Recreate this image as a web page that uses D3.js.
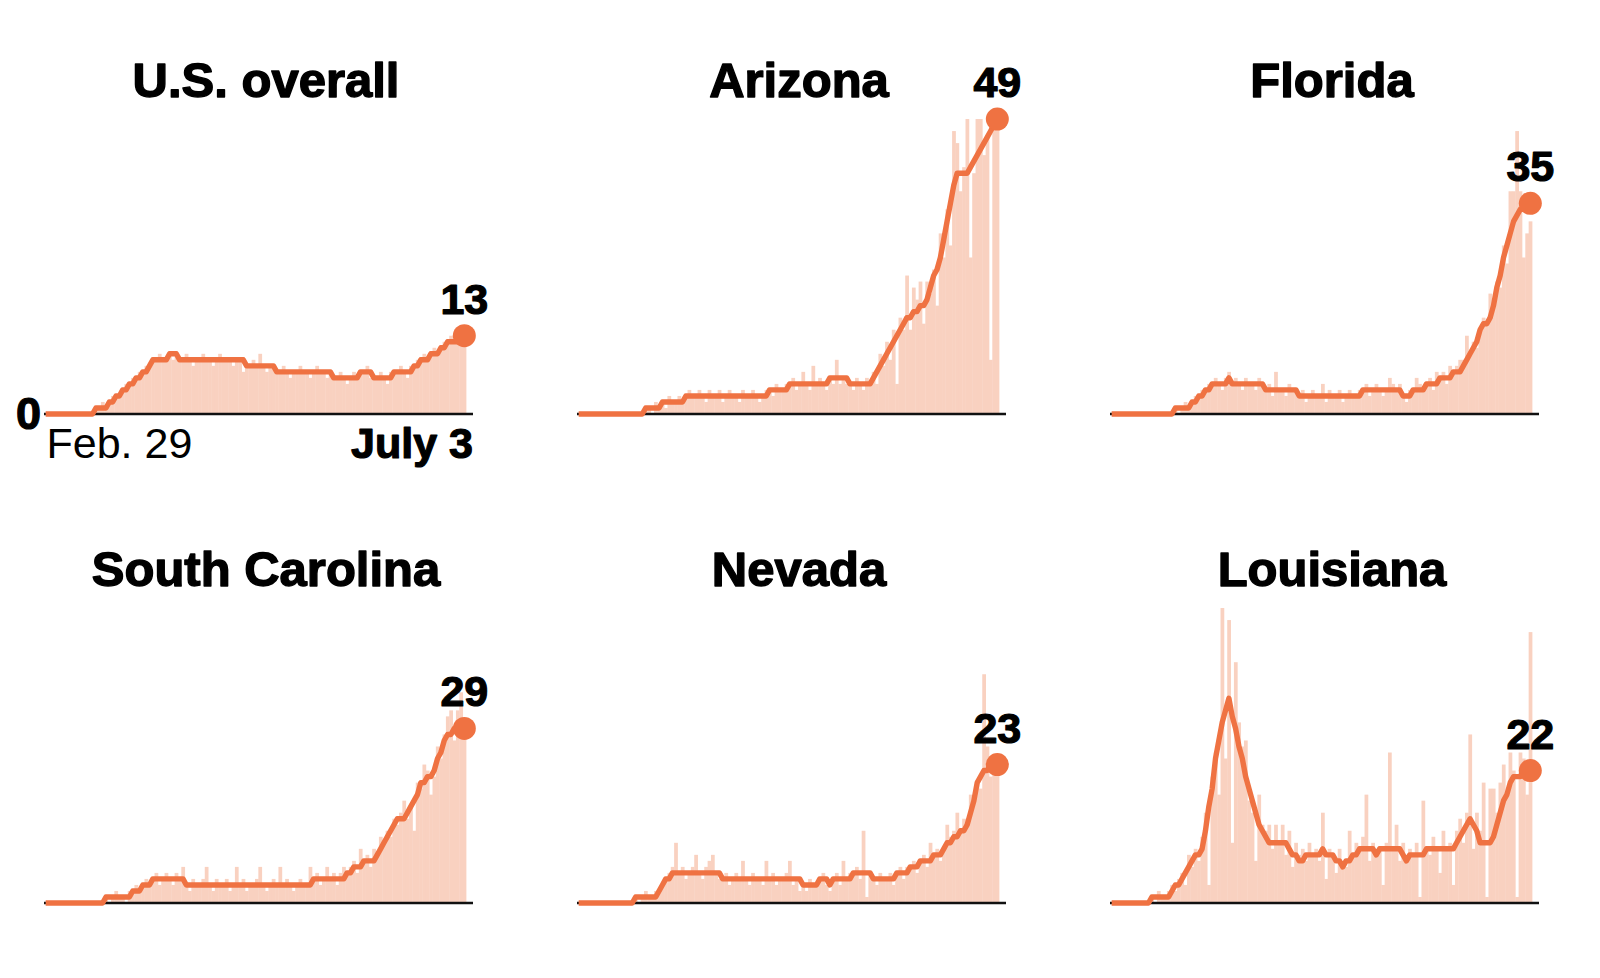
<!DOCTYPE html>
<html><head><meta charset="utf-8">
<script src="https://cdn.jsdelivr.net/npm/d3@7"></script>
<style>
html,body{margin:0;padding:0;background:#fff;}
svg{display:block;font-family:"Liberation Sans",Arial,sans-serif;}
</style></head><body>
<svg id="chart" width="1600" height="978"></svg>
<script>
// ---------- DATA (new cases per 100,000, Feb. 29 – July 3) ----------
const startDate = new Date(2020, 1, 29);
const endDate = new Date(2020, 6, 3);
const regions = ["U.S. overall", "Arizona", "Florida", "South Carolina", "Nevada", "Louisiana"];
const endLabels = ["13", "49", "35", "29", "23", "22"];
const dateLabels = ["Feb. 29", "July 3"];
const zeroLabel = "0";

const usDaily = [
 0,0,0,0,0,0,0,0,0,0,
 0,0,0,0,0,1,1,2,1,2,
 3,3,3,4,5,5,6,6,7,7,
 8,8,9,9,10,9,9,10,9,10,
 9,9,10,9,8,9,9,10,9,9,
 8,9,10,9,9,9,8,9,9,7,
 8,8,9,8,10,8,7,8,8,7,
 7,8,7,6,7,7,8,7,7,6,
 7,8,7,7,6,7,6,6,7,6,
 5,6,7,6,7,7,8,6,6,6,
 7,6,5,7,7,7,8,7,6,8,
 8,9,9,10,9,10,11,10,11,12,
 12,13,12,14,14,13];
const usAvg = [
 0,0,0,0,0,0,0,0,0,0,
 0,0,0,0,0,1,1,1,1,2,
 2,3,3,4,4,5,5,6,6,7,
 7,8,9,9,9,9,9,10,10,10,
 9,9,9,9,9,9,9,9,9,9,
 9,9,9,9,9,9,9,9,9,9,
 8,8,8,8,8,8,8,8,8,7,
 7,7,7,7,7,7,7,7,7,7,
 7,7,7,7,7,7,6,6,6,6,
 6,6,6,6,7,7,7,7,6,6,
 6,6,6,6,7,7,7,7,7,7,
 8,8,9,9,9,10,10,10,11,11,
 12,12,12,12,12,13];

const azDaily = [
 0,0,0,0,0,0,0,0,0,0,
 0,0,0,0,0,0,0,0,0,0,
 1,1,0,2,1,2,1,3,2,2,
 3,2,3,4,3,3,4,3,2,4,
 3,3,4,2,3,4,3,3,2,4,
 3,3,4,3,2,3,4,4,3,5,
 4,4,5,5,6,4,5,7,5,4,
 8,5,6,5,4,6,5,9,5,6,
 5,5,4,6,5,4,6,5,7,5,
 10,8,12,9,14,5,16,14,23,14,
 21,19,22,15,22,20,24,18,30,26,
 34,28,47,45,37,41,49,26,40,49,
 49,43,46,9,49,49];
const azAvg = [
 0,0,0,0,0,0,0,0,0,0,
 0,0,0,0,0,0,0,0,0,0,
 1,1,1,1,1,2,2,2,2,2,
 2,2,3,3,3,3,3,3,3,3,
 3,3,3,3,3,3,3,3,3,3,
 3,3,3,3,3,3,3,4,4,4,
 4,4,4,5,5,5,5,5,5,5,
 5,5,5,5,5,6,6,6,6,6,
 6,5,5,5,5,5,5,5,6,7,
 8,9,10,11,12,13,14,15,16,16,
 17,17,18,18,19,21,23,24,26,29,
 32,35,38,40,40,40,40,41,42,43,
 44,45,46,47,48,49];

const flDaily = [
 0,0,0,0,0,0,0,0,0,0,
 0,0,0,0,0,0,0,0,0,1,
 0,1,2,1,2,3,3,4,4,5,
 5,6,5,4,6,7,5,6,5,4,
 6,5,5,4,6,5,4,5,3,7,
 4,4,3,5,4,4,3,4,2,3,
 4,3,3,5,2,4,3,3,4,2,
 3,4,3,3,4,4,5,3,4,5,
 4,3,4,6,5,4,5,3,2,4,
 4,6,5,4,5,6,4,7,6,7,
 5,8,7,8,9,9,13,10,12,11,
 14,16,15,20,18,22,21,28,25,37,
 37,47,37,26,30,32];
const flAvg = [
 0,0,0,0,0,0,0,0,0,0,
 0,0,0,0,0,0,0,0,0,1,
 1,1,1,1,2,2,3,3,4,4,
 5,5,5,5,5,6,5,5,5,5,
 5,5,5,5,5,5,4,4,4,4,
 4,4,4,4,4,4,3,3,3,3,
 3,3,3,3,3,3,3,3,3,3,
 3,3,3,3,3,4,4,4,4,4,
 4,4,4,4,4,4,4,3,3,3,
 4,4,4,4,5,5,5,5,6,6,
 6,6,7,7,7,8,9,10,11,12,
 14,15,15,16,18,21,23,26,28,30,
 32,33,34,34,35,35];

const scDaily = [
 0,0,0,0,0,0,0,0,0,0,
 0,0,0,0,0,0,0,0,1,0,
 1,2,1,1,0,2,2,3,2,3,
 4,3,4,5,3,4,5,4,3,5,
 4,6,3,2,4,3,3,4,6,3,
 2,4,3,3,4,2,3,6,3,4,
 2,3,3,4,6,3,2,3,4,3,
 6,3,4,3,2,3,4,3,3,6,
 4,5,3,4,6,4,5,3,5,6,
 5,6,7,5,9,7,8,6,9,8,
 11,10,12,11,14,13,15,17,14,16,
 12,20,19,23,22,18,21,26,24,28,
 31,32,27,32,35,29];
const scAvg = [
 0,0,0,0,0,0,0,0,0,0,
 0,0,0,0,0,0,0,0,1,1,
 1,1,1,1,1,1,2,2,2,3,
 3,3,4,4,4,4,4,4,4,4,
 4,4,3,3,3,3,3,3,3,3,
 3,3,3,3,3,3,3,3,3,3,
 3,3,3,3,3,3,3,3,3,3,
 3,3,3,3,3,3,3,3,3,3,
 4,4,4,4,4,4,4,4,4,4,
 5,5,6,6,6,7,7,7,7,8,
 9,10,11,12,13,14,14,14,15,16,
 17,18,20,20,21,21,22,24,25,27,
 28,28,29,29,29,29];

const nvDaily = [
 0,0,0,0,0,0,0,0,0,0,
 0,0,0,0,0,0,0,1,0,1,
 2,1,1,2,2,3,4,5,6,10,
 5,6,4,5,6,8,5,4,6,7,
 8,5,4,4,5,3,4,5,4,7,
 4,3,5,4,4,3,7,4,5,3,
 4,4,5,7,3,4,2,3,2,4,
 3,3,4,5,3,2,4,5,3,7,
 4,5,5,6,4,12,1,5,4,3,
 5,4,4,5,3,5,6,4,6,6,
 7,5,7,8,6,10,8,9,7,9,
 13,11,12,15,12,14,13,18,17,20,
 19,38,26,21,23,24];
const nvAvg = [
 0,0,0,0,0,0,0,0,0,0,
 0,0,0,0,0,0,0,1,1,1,
 1,1,1,1,2,3,4,4,5,5,
 5,5,5,5,5,5,5,5,5,5,
 5,5,5,4,4,4,4,4,4,4,
 4,4,4,4,4,4,4,4,4,4,
 4,4,4,4,4,4,4,3,3,3,
 3,3,4,4,4,3,4,4,4,4,
 4,4,5,5,5,5,5,5,4,4,
 4,4,4,4,4,5,5,5,5,6,
 6,6,7,7,7,7,8,8,8,9,
 10,10,11,11,12,12,13,15,17,20,
 21,22,22,23,23,23];

const laDaily = [
 0,0,0,0,0,0,0,0,0,0,
 0,0,1,0,2,1,1,2,3,2,
 4,5,3,8,6,9,7,11,15,3,
 21,25,18,49,24,47,10,40,30,26,
 27,17,15,7,18,13,12,13,9,13,
 10,13,8,12,6,10,8,9,7,10,
 8,9,7,15,4,9,8,5,9,7,
 6,12,8,10,9,11,18,7,10,8,
 9,3,10,25,9,13,7,10,7,9,
 8,10,1,17,9,8,11,9,5,12,
 9,10,3,12,14,10,15,28,9,15,
 12,20,1,19,19,15,20,23,18,25,
 22,1,25,24,18,45];
const laAvg = [
 0,0,0,0,0,0,0,0,0,0,
 0,0,1,1,1,1,1,1,2,3,
 3,4,5,6,7,8,8,9,12,16,
 19,24,27,30,32,34,31,29,26,24,
 21,19,17,15,13,12,11,10,10,10,
 10,10,10,9,8,8,7,7,8,8,
 8,8,8,9,8,8,8,7,7,6,
 7,7,8,8,9,9,9,9,9,8,
 9,9,9,9,9,9,9,8,7,8,
 8,8,8,8,9,9,9,9,9,9,
 9,9,9,10,11,12,13,14,13,12,
 10,10,10,10,11,13,15,17,18,20,
 21,21,21,22,22,22];

const dailySeries = [usDaily, azDaily, flDaily, scDaily, nvDaily, laDaily];
const avgSeries = [usAvg, azAvg, flAvg, scAvg, nvAvg, laAvg];

// ---------- LAYOUT ----------
const colX = [44, 577, 1110];
const rowBase = [414, 903];
const bandWidth = 422;
const axisLength = 429;
const lineColor = "#ef7242";
const barColor = "#f9d1c0";
const ink = "#000";

const dates = d3.timeDay.range(startDate, d3.timeDay.offset(endDate, 1));
const x = d3.scaleBand().domain(d3.range(dates.length)).range([0, bandWidth]).padding(0);
const bw = x.bandwidth();
const y = d3.scaleLinear().domain([0, 50]).range([0, 301]);

const svg = d3.select("#chart");

function boldText(sel, size, sw) {
  return sel.attr("font-size", size).attr("font-weight", 700)
    .attr("fill", ink).attr("stroke", ink).attr("stroke-width", sw)
    .attr("stroke-linejoin", "round");
}

regions.forEach((name, k) => {
  const daily = dailySeries[k], avg = avgSeries[k];
  if (daily.length !== dates.length || avg.length !== dates.length)
    console.error(name, daily.length, avg.length, dates.length);
  const g = svg.append("g")
    .attr("transform", `translate(${colX[k % 3]},${rowBase[Math.floor(k / 3)]})`);

  g.append("g").selectAll("rect").data(daily).join("rect")
    .attr("x", (d, i) => x(i))
    .attr("y", d => -y(d))
    .attr("width", bw + 0.4)
    .attr("height", d => y(d))
    .attr("fill", barColor);

  g.append("line")
    .attr("x1", x.range()[0]).attr("x2", axisLength)
    .attr("y1", 0).attr("y2", 0)
    .attr("stroke", "#111").attr("stroke-width", 2.4);

  const line = d3.line().x((d, i) => x(i) + bw / 2).y(d => -y(d));
  g.append("path").datum(avg)
    .attr("d", line)
    .attr("fill", "none")
    .attr("stroke", lineColor)
    .attr("stroke-width", 5.4)
    .attr("stroke-linejoin", "round");

  const last = avg.length - 1;
  const lx = x(last) + bw / 2, ly = -y(avg[last]);
  g.append("circle").attr("cx", lx).attr("cy", ly).attr("r", 11.5).attr("fill", lineColor);

  boldText(g.append("text").attr("x", lx).attr("y", ly - 22)
    .attr("text-anchor", "middle"), 43, 1.2).text(endLabels[k]);

  boldText(g.append("text").attr("x", 222).attr("y", -317)
    .attr("text-anchor", "middle"), 49, 1.4).text(name);

  if (k === 0) {
    boldText(g.append("text").attr("x", -3).attr("y", 15)
      .attr("text-anchor", "end"), 45, 1.2).text(zeroLabel);
    g.append("text").attr("x", 2.5).attr("y", 44)
      .attr("text-anchor", "start").attr("font-size", 43).attr("font-weight", 400)
      .attr("fill", ink).text(dateLabels[0]);
    boldText(g.append("text").attr("x", axisLength).attr("y", 44)
      .attr("text-anchor", "end"), 43, 1.2).text(dateLabels[1]);
  }
});
</script>
</body></html>
